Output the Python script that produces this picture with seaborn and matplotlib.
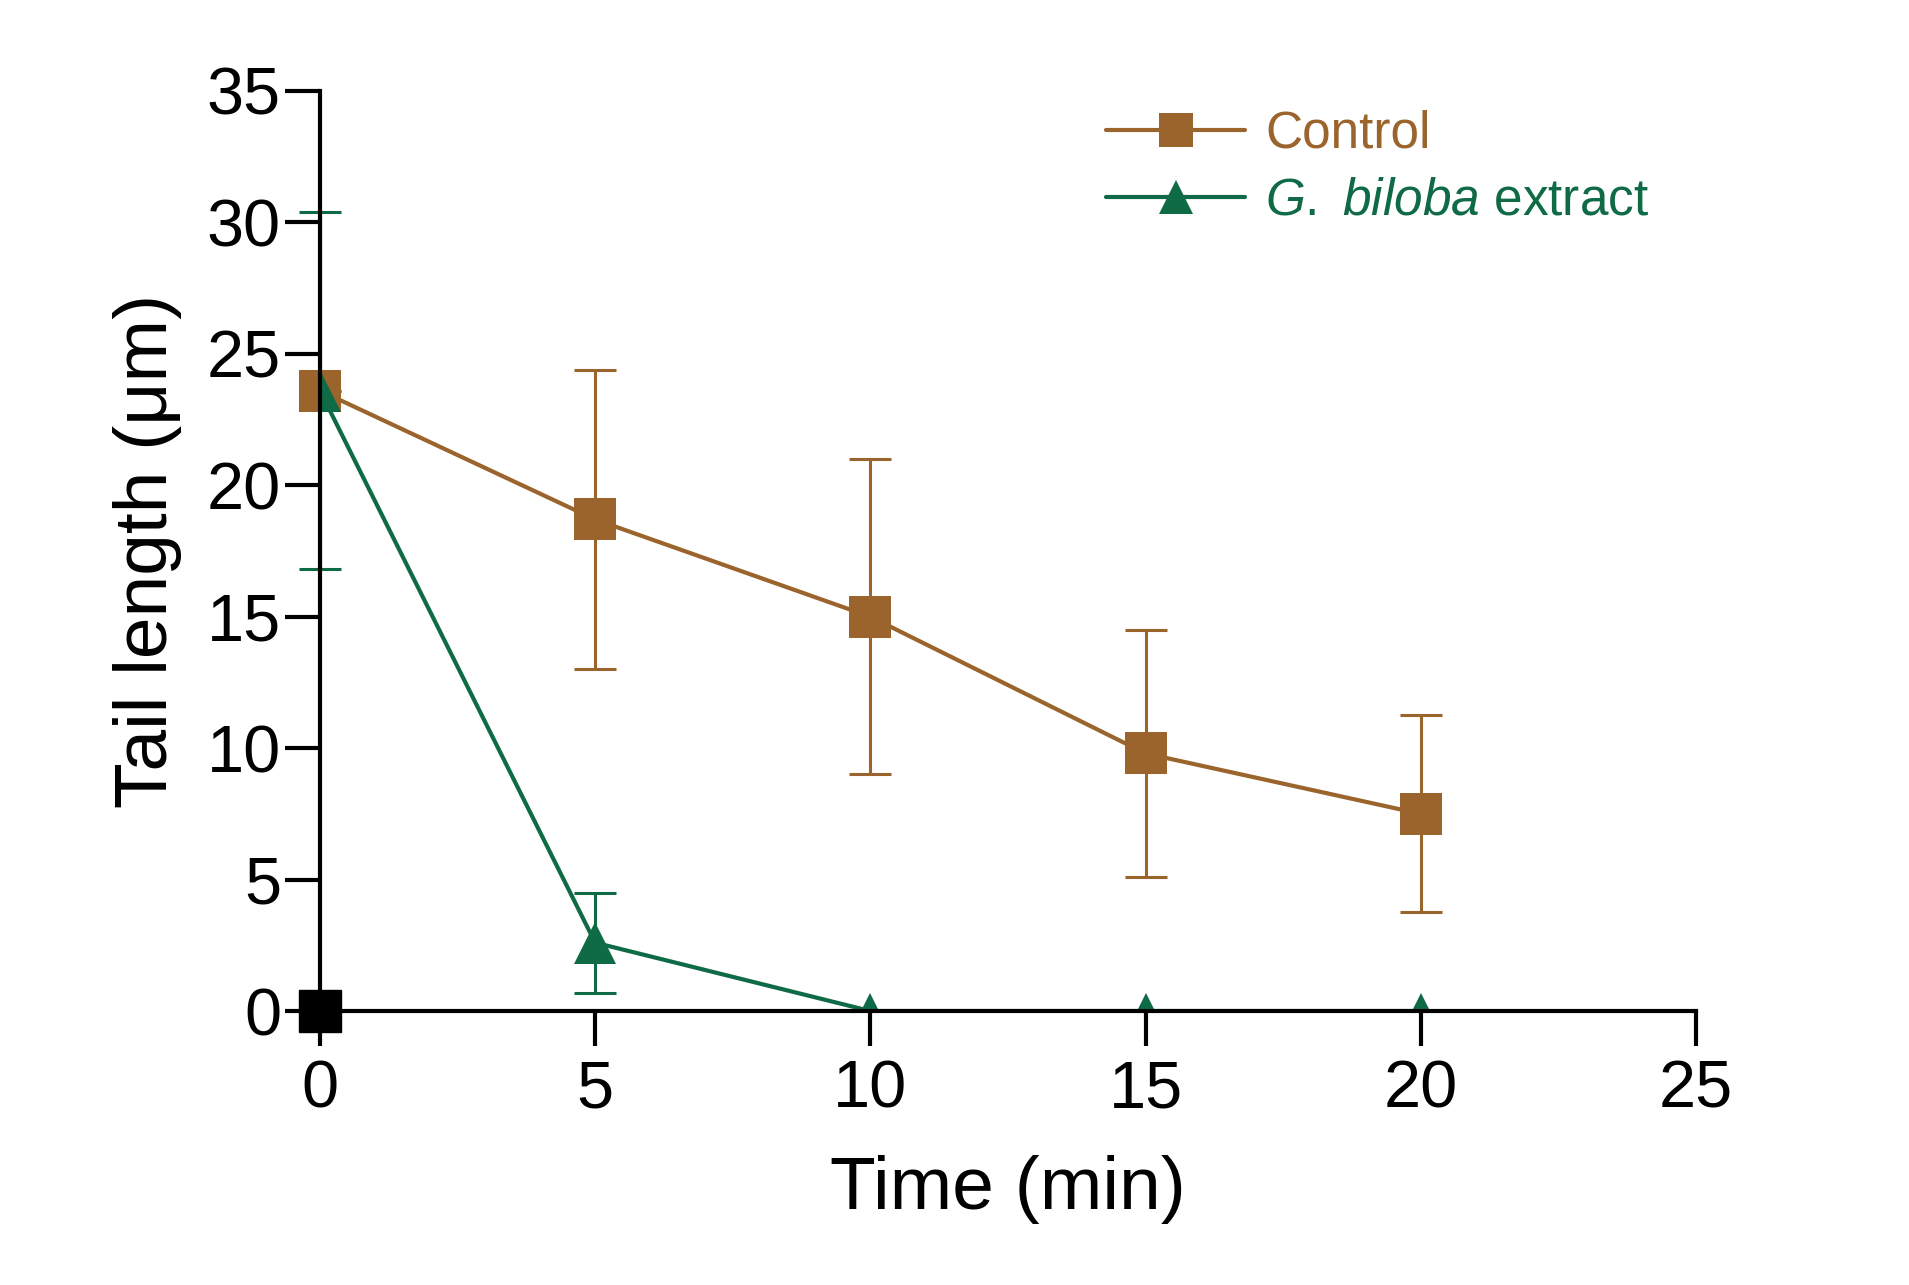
import numpy as np
import pandas as pd
import seaborn as sns
import matplotlib.pyplot as plt

# data
time_min = [0, 5, 10, 15, 20]
control_mean = [23.6, 18.7, 15.0, 9.8, 7.5]
control_sd = [0.0, 5.7, 6.0, 4.7, 3.75]
ginkgo_mean = [23.6, 2.6, 0.0, 0.0, 0.0]
ginkgo_sd = [6.8, 1.9, 0.0, 0.0, 0.0]

brown = "#9a642c"
green = "#0f6b45"

sns.set_style("ticks")
plt.rcParams['font.family'] = ['Liberation Sans', 'DejaVu Sans']
plt.rcParams['mathtext.fontset'] = 'custom'
plt.rcParams['mathtext.it'] = 'Liberation Sans:italic'
plt.rcParams['mathtext.rm'] = 'Liberation Sans'

fig = plt.figure(figsize=(19.09, 12.85), dpi=100)
ax = fig.add_axes([0.1676, 0.2132, 0.7208, 0.716])

df_c = pd.DataFrame({"t": time_min, "y": control_mean})
df_g = pd.DataFrame({"t": time_min, "y": ginkgo_mean})

# error bars
eb1 = ax.errorbar(time_min, control_mean, yerr=control_sd, fmt="none", ecolor=brown,
                  elinewidth=2.2, capsize=15, capthick=2.2, zorder=2)
eb2 = ax.errorbar(time_min[:2], ginkgo_mean[:2], yerr=ginkgo_sd[:2], fmt="none", ecolor=green,
                  elinewidth=2.2, capsize=15, capthick=2.2, zorder=2)
for eb in (eb1, eb2):
    for art in eb.lines[1] + eb.lines[2]:
        art.set_clip_on(False)

sns.lineplot(data=df_c, x="t", y="y", ax=ax, color=brown, linewidth=3.0,
             marker="s", markersize=30, markeredgewidth=0, label="Control", zorder=3,
             clip_on=False)
sns.lineplot(data=df_g, x="t", y="y", ax=ax, color=green, linewidth=3.0,
             marker="^", markersize=30, markeredgewidth=0, markevery=[0, 1],
             label=r"$\it{G.\ biloba}$ extract", zorder=4)
# small triangles sitting on the axis for the zero values
ax.plot(time_min[2:], ginkgo_mean[2:], linestyle="none", marker="^", markersize=26,
        color=green, markeredgewidth=0, zorder=4)

# black marker at the origin
ax.plot([0], [0], linestyle="none", marker="s", markersize=30, color="black",
        clip_on=False, zorder=6)

ax.set_xlim(0, 25)
ax.set_ylim(0, 35)
ax.set_xticks([0, 5, 10, 15, 20, 25])
ax.set_yticks([0, 5, 10, 15, 20, 25, 30, 35])
sns.despine(ax=ax)
for s in ["left", "bottom"]:
    ax.spines[s].set_linewidth(3.0)
    ax.spines[s].set_color("black")
    ax.spines[s].set_zorder(5)
ax.tick_params(axis="both", length=25, width=3.0, color="black", labelsize=48,
               labelcolor="black", direction="out")
ax.tick_params(axis="y", pad=3)
ax.tick_params(axis="x", pad=10)

ax.set_xlabel("Time (min)", fontsize=54, labelpad=24, color="black")
ax.set_ylabel("Tail length (\u03bcm)", fontsize=54, labelpad=18, color="black")

leg = ax.legend(loc="upper right", bbox_to_anchor=(1.0, 1.03), frameon=False,
                fontsize=37, handlelength=2.7, handletextpad=0.4, labelspacing=0.35,
                markerscale=0.8)
for txt, col in zip(leg.get_texts(), [brown, green]):
    txt.set_color(col)

fig.savefig("out.png", dpi=100)
